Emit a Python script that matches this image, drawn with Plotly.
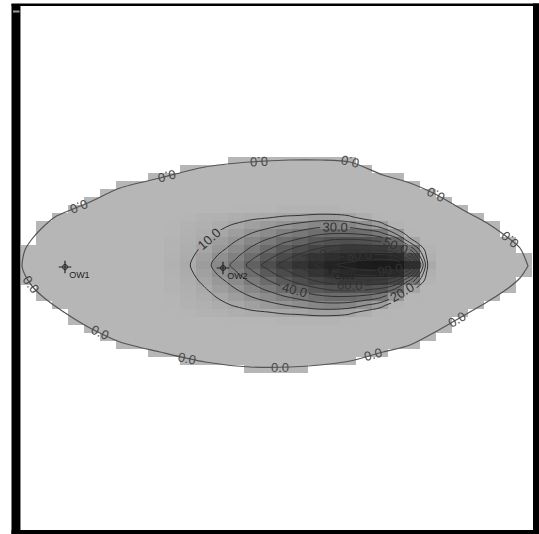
import numpy as np
import plotly.graph_objects as go

# ---------------- data ----------------
# Model domain (lens-shaped) boundary: x, upper y, lower y  (y measured downward)
bnd_x   = [22, 25, 32, 42, 55, 73, 90, 120, 160, 205, 250, 290, 320, 350, 383, 410, 437, 463, 487, 507, 520, 528]
bnd_top = [266, 250, 239, 228, 217, 209, 202, 188, 178, 167, 162, 160, 160, 162, 175, 183, 195, 210, 223, 237, 248, 266]
bnd_bot = [266, 275, 286, 296, 306, 318, 328, 342, 352, 362, 367, 367, 365, 361, 352, 345, 331, 316, 302, 289, 278, 266]

# Concentration grid of the plume
plume_x = [172, 188, 204, 220, 236, 252, 268, 284, 300, 316, 332, 348, 364, 380, 396, 412, 428, 444]
plume_y = [209, 217, 225, 233, 241, 249, 257, 265, 273, 281, 289, 297, 305, 313, 321]
plume_conc = [
    [0, 0, 0, 0, 1, 1, 1, 2, 2, 2, 2, 1, 0, 0, 0, 0, 0, 0],
    [0, 1, 3, 4, 6, 8, 9, 11, 12, 14, 14, 12, 6, 1, 0, 0, 0, 0],
    [1, 3, 5, 8, 11, 14, 17, 20, 23, 26, 27, 26, 21, 15, 2, 0, 0, 0],
    [1, 4, 7, 11, 15, 20, 24, 29, 33, 37, 39, 39, 37, 32, 18, 1, 0, 0],
    [2, 5, 9, 15, 20, 26, 32, 38, 43, 48, 52, 53, 52, 49, 39, 12, 0, 0],
    [2, 6, 12, 18, 24, 32, 39, 47, 54, 60, 65, 68, 68, 67, 60, 34, 2, 0],
    [3, 8, 14, 22, 29, 38, 47, 56, 64, 72, 78, 82, 85, 86, 82, 57, 5, 0],
    [4, 9, 16, 25, 33, 44, 54, 64, 73, 81, 88, 94, 98, 100, 100, 78, 9, 0],
    [3, 8, 14, 22, 29, 38, 47, 56, 64, 72, 78, 82, 85, 86, 82, 57, 5, 0],
    [2, 6, 12, 18, 24, 32, 39, 47, 54, 60, 65, 68, 68, 67, 60, 34, 2, 0],
    [2, 5, 9, 15, 20, 26, 32, 38, 43, 48, 52, 53, 52, 49, 39, 12, 0, 0],
    [1, 4, 7, 11, 15, 20, 24, 29, 33, 37, 39, 39, 37, 32, 18, 1, 0, 0],
    [1, 3, 5, 8, 11, 14, 17, 20, 23, 26, 27, 26, 21, 15, 2, 0, 0, 0],
    [0, 1, 3, 4, 6, 8, 9, 11, 12, 14, 14, 12, 6, 1, 0, 0, 0, 0],
    [0, 0, 0, 0, 1, 1, 1, 2, 2, 2, 2, 1, 0, 0, 0, 0, 0, 0],
]

# Observation wells
well_names = ["OW1", "OW2", "OW3"]
well_x = [65, 223, 330]
well_y = [267, 268, 268]

# Positions (x) of the "0.0" labels on the domain boundary
label_top_x = [79, 167, 259, 350, 436, 510]
label_bot_x = [31, 100, 187, 280, 373, 457]

# ---------------- full heatmap grid (cells 16 x 8) ----------------
grid_x = [28 + 16 * k for k in range(32)]
grid_y = [265 + 8 * j for j in range(-14, 15)]
px_idx = {v: i for i, v in enumerate(plume_x)}
py_idx = {v: i for i, v in enumerate(plume_y)}
z_full = []
for cy in grid_y:
    row = []
    for cx in grid_x:
        top = np.interp(cx, bnd_x, bnd_top)
        bot = np.interp(cx, bnd_x, bnd_bot)
        if cx < bnd_x[0] or cx > bnd_x[-1] or cy < top - 3 or cy > bot + 3:
            row.append(None)
        elif cx in px_idx and cy in py_idx:
            row.append(plume_conc[py_idx[cy]][px_idx[cx]])
        else:
            row.append(0)
    z_full.append(row)

fig = go.Figure()

fig.add_trace(go.Heatmap(
    x=grid_x, y=grid_y, z=z_full, zmin=0, zmax=100, zsmooth=False,
    colorscale=[[0, "#b6b6b6"], [0.1, "#a9a9a9"], [0.3, "#7e7e7e"], [0.5, "#545454"],
                [0.7, "#363636"], [0.85, "#262626"], [1, "#1b1b1b"]],
    showscale=False, hoverongaps=False,
))

fig.add_trace(go.Contour(
    x=plume_x, y=plume_y, z=plume_conc, showscale=False,
    contours=dict(start=10, end=90, size=10, coloring="none", showlabels=True,
                  labelfont=dict(size=13, color="#333333", family="Liberation Sans"),
                  labelformat=".1f"),
    line=dict(color="#333333", width=1, smoothing=1.0),
))

# domain boundary (0.0 contour)
loop_x = bnd_x + bnd_x[::-1]
loop_y = bnd_top + bnd_bot[::-1]
fig.add_trace(go.Scatter(x=loop_x, y=loop_y, mode="lines",
                         line=dict(color="#555555", width=1.2, shape="spline", smoothing=0.8),
                         hoverinfo="skip", showlegend=False))

# wells
fig.add_trace(go.Scatter(x=well_x, y=well_y, mode="markers",
                         marker=dict(symbol="cross-thin-open", size=9, color="#222222",
                                     line=dict(color="#222222", width=1.2)),
                         hoverinfo="skip", showlegend=False))
fig.add_trace(go.Scatter(x=well_x, y=well_y, mode="markers+text", text=well_names,
                         textposition="bottom right",
                         textfont=dict(size=9, color="#222222", family="Liberation Sans"),
                         marker=dict(symbol="circle-open", size=5, color="#222222",
                                     line=dict(color="#222222", width=1)),
                         showlegend=False))

# "0.0" labels along the boundary
annots = []
for xs, arr, flip in [(label_top_x, bnd_top, True), (label_bot_x, bnd_bot, False)]:
    for lx in xs:
        ly = float(np.interp(lx, bnd_x, arr))
        dy = float(np.interp(lx + 3, bnd_x, arr) - np.interp(lx - 3, bnd_x, arr))
        ang = float(np.degrees(np.arctan2(dy, 6.0)))
        if flip:
            ang += 180
        annots.append(dict(x=lx, y=ly, xref="x", yref="y", text="0.0", showarrow=False,
                           textangle=ang, font=dict(size=13, color="#4a4a4a", family="Liberation Sans")))

# frame
W, H = 539, 534
L, R, T, B = 20, 7, 5, 4
pw, ph = W - L - R, H - T - B
def px2p(x):
    return (x - L) / pw
def py2p(y):
    return (H - B - y) / ph
shapes = [
    dict(type="rect", xref="paper", yref="paper", x0=px2p(11.5), x1=px2p(20), y0=py2p(534), y1=py2p(4),
         fillcolor="black", line=dict(width=0), layer="above"),
    dict(type="rect", xref="paper", yref="paper", x0=px2p(11.5), x1=px2p(539), y0=py2p(6), y1=py2p(3.5),
         fillcolor="black", line=dict(width=0), layer="above"),
    dict(type="rect", xref="paper", yref="paper", x0=px2p(533), x1=px2p(539), y0=py2p(534), y1=py2p(3.5),
         fillcolor="black", line=dict(width=0), layer="above"),
    dict(type="rect", xref="paper", yref="paper", x0=px2p(11.5), x1=px2p(539), y0=py2p(534), y1=py2p(530),
         fillcolor="black", line=dict(width=0), layer="above"),
    dict(type="line", xref="paper", yref="paper", x0=px2p(13), x1=px2p(19.5), y0=py2p(11.5), y1=py2p(11.5),
         line=dict(color="#9a9a9a", width=2), layer="above"),
    dict(type="line", xref="paper", yref="paper", x0=px2p(20.5), x1=px2p(20.5), y0=py2p(530), y1=py2p(6),
         line=dict(color="#8a8a8a", width=1), layer="above"),
]

fig.update_layout(
    width=W, height=H, margin=dict(l=L, r=R, t=T, b=B),
    paper_bgcolor="white", plot_bgcolor="white",
    xaxis=dict(range=[20, 532], visible=False, showgrid=False, zeroline=False),
    yaxis=dict(range=[530, 5], visible=False, showgrid=False, zeroline=False),
    showlegend=False, annotations=annots, shapes=shapes,
)

fig.write_html("out.html", config={"displayModeBar": False},
               post_script="document.body.style.margin='0';document.body.style.overflow='hidden';")
